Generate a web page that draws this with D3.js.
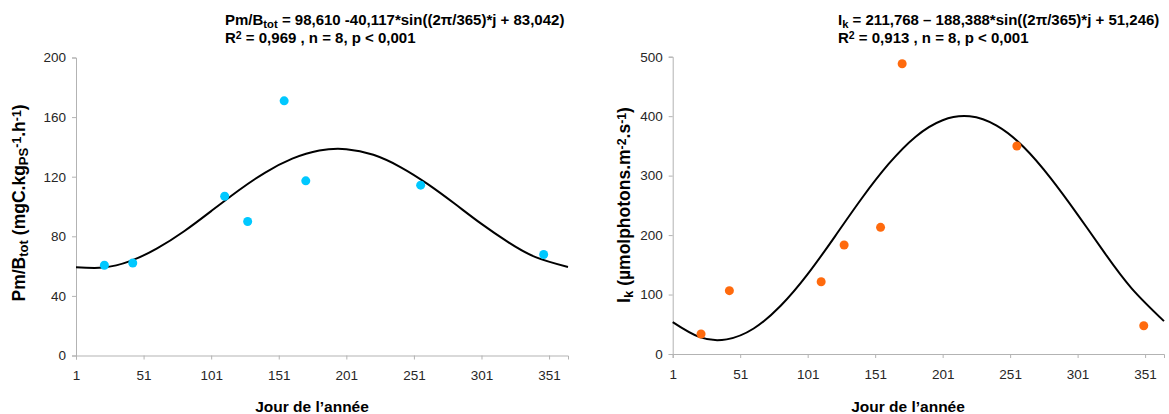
<!DOCTYPE html>
<html>
<head>
<meta charset="utf-8">
<script src="https://cdn.jsdelivr.net/npm/d3@7"></script>
<style>
  html, body { margin: 0; padding: 0; background: #fff; }
  svg { display: block; font-family: "Liberation Sans", Arial, sans-serif; }
</style>
</head>
<body>
<svg id="chart" width="1169" height="414"></svg>
<script>
// ---------- data ----------
const xTickValues = [1, 51, 101, 151, 201, 251, 301, 351];
const pmTickValues = [0, 40, 80, 120, 160, 200];
const ikTickValues = [0, 100, 200, 300, 400, 500];

// observed points
const pmDays = [22, 43, 111, 128, 155, 171, 256, 347];
const pmValues = [60.6, 62.1, 106.9, 89.9, 170.9, 117.2, 114.3, 67.8];
const ikDays = [22, 43, 111, 128, 155, 171, 256, 350];
const ikValues = [33.6, 106.5, 121.6, 183.3, 213, 488.2, 349.8, 47.6];

// fitted curves, read at sample days
const curveDays = [1, 21, 41, 61, 81, 101, 121, 141, 161, 181, 201, 221, 241, 261, 281, 301, 321, 341, 365];
const pmCurve = [59.3, 59.0, 63.3, 71.9, 83.4, 96.9, 110.6, 122.8, 132.1, 137.6, 138.5, 134.7, 126.5, 115.2, 102.0, 88.3, 75.9, 66.0, 59.4];
const ikCurve = [53.5, 28.3, 24.6, 42.9, 81.1, 134.3, 197.1, 261.5, 319.6, 365.5, 393.2, 399.7, 384.0, 348.1, 295.8, 234.5, 170.1, 110.5, 55.3];

const svg = d3.select("#chart");
const axisColor = "#b3b3b3";
const labelColor = "#262626";

function drawPanel(cfg) {
  const x = d3.scaleLinear().domain([1, 365]).range([cfg.x0, cfg.x1]);
  const y = d3.scaleLinear().domain(cfg.yDomain).range([cfg.yBottom, cfg.yTop]);
  const g = svg.append("g");

  // y axis
  const ya = g.append("g").attr("transform", `translate(${cfg.x0},0)`)
    .call(d3.axisLeft(y).tickValues(cfg.yTicks).tickSize(4).tickPadding(6).tickFormat(d3.format("d")));
  ya.select(".domain").attr("stroke", axisColor);
  ya.selectAll(".tick line").attr("stroke", axisColor);
  ya.selectAll(".tick text").attr("fill", labelColor).style("font-size", "13.5px")
    .style("font-family", "'Liberation Sans', Arial, sans-serif");

  // x axis
  const xa = g.append("g").attr("transform", `translate(0,${cfg.yBottom})`)
    .call(d3.axisBottom(x).tickValues(xTickValues).tickSize(4).tickPadding(11).tickFormat(d3.format("d")));
  xa.select(".domain").attr("stroke", axisColor);
  xa.selectAll(".tick line").attr("stroke", axisColor);
  xa.selectAll(".tick text").attr("fill", labelColor).style("font-size", "13.5px")
    .style("font-family", "'Liberation Sans', Arial, sans-serif");

  // fitted curve
  const line = d3.line().x((d, i) => x(curveDays[i])).y(d => y(d)).curve(d3.curveNatural);
  g.append("path").datum(cfg.curve).attr("d", line)
    .attr("fill", "none").attr("stroke", "#000").attr("stroke-width", 2);

  // points
  g.selectAll("circle.pt").data(cfg.values).join("circle")
    .attr("class", "pt")
    .attr("cx", (d, i) => x(cfg.days[i])).attr("cy", d => y(d)).attr("r", 4.5)
    .attr("fill", cfg.color);

  // x title
  g.append("text").attr("x", cfg.xTitleX).attr("y", 412).attr("text-anchor", "middle")
    .attr("font-weight", "bold").attr("font-size", 15.5).attr("fill", "#000")
    .text("Jour de l\u2019ann\u00e9e");
}

function richText(parent, parts, attrs) {
  const t = parent.append("text");
  Object.entries(attrs).forEach(([k, v]) => t.attr(k, v));
  parts.forEach(p => {
    const ts = t.append("tspan").text(p.t);
    if (p.sub) ts.attr("baseline-shift", "-25%").attr("font-size", "75%");
    if (p.sup) ts.attr("baseline-shift", "35%").attr("font-size", "70%");
  });
  return t;
}

drawPanel({
  x0: 76, x1: 568, yBottom: 355.5, yTop: 57.5, yDomain: [0, 200], yTicks: pmTickValues,
  curve: pmCurve, days: pmDays, values: pmValues, color: "#00c8ff", xTitleX: 312
});
drawPanel({
  x0: 672.7, x1: 1164, yBottom: 354, yTop: 56.7, yDomain: [0, 500], yTicks: ikTickValues,
  curve: ikCurve, days: ikDays, values: ikValues, color: "#ff6a0d", xTitleX: 908
});

// y titles
richText(svg, [
  {t: "Pm/B"}, {t: "tot", sub: true}, {t: " (mgC.kg"}, {t: "PS", sub: true},
  {t: "-1", sup: true}, {t: ".h"}, {t: "-1", sup: true}, {t: ")"}
], {transform: "translate(25,203) rotate(-90)", "text-anchor": "middle", "font-weight": "bold", "font-size": 17.5, fill: "#000"});

richText(svg, [
  {t: "I"}, {t: "k", sub: true}, {t: " (\u00b5molphotons.m"}, {t: "-2", sup: true},
  {t: ".s"}, {t: "-1", sup: true}, {t: ")"}
], {transform: "translate(630,205) rotate(-90)", "text-anchor": "middle", "font-weight": "bold", "font-size": 17.5, fill: "#000"});

// equations
const eqAttrs = {"font-weight": "bold", "font-size": 15, fill: "#000"};
richText(svg, [{t: "Pm/B"}, {t: "tot", sub: true}, {t: " = 98,610 -40,117*sin((2\u03c0/365)*j + 83,042)"}],
  Object.assign({x: 225, y: 25}, eqAttrs));
richText(svg, [{t: "R"}, {t: "2", sup: true}, {t: " = 0,969 , n = 8, p < 0,001"}],
  Object.assign({x: 225, y: 43}, eqAttrs));
richText(svg, [{t: "I"}, {t: "k", sub: true}, {t: " = 211,768 \u2013 188,388*sin((2\u03c0/365)*j + 51,246)"}],
  Object.assign({x: 838, y: 25}, eqAttrs));
richText(svg, [{t: "R"}, {t: "2", sup: true}, {t: " = 0,913 , n = 8, p < 0,001"}],
  Object.assign({x: 838, y: 43}, eqAttrs));
</script>
</body>
</html>
